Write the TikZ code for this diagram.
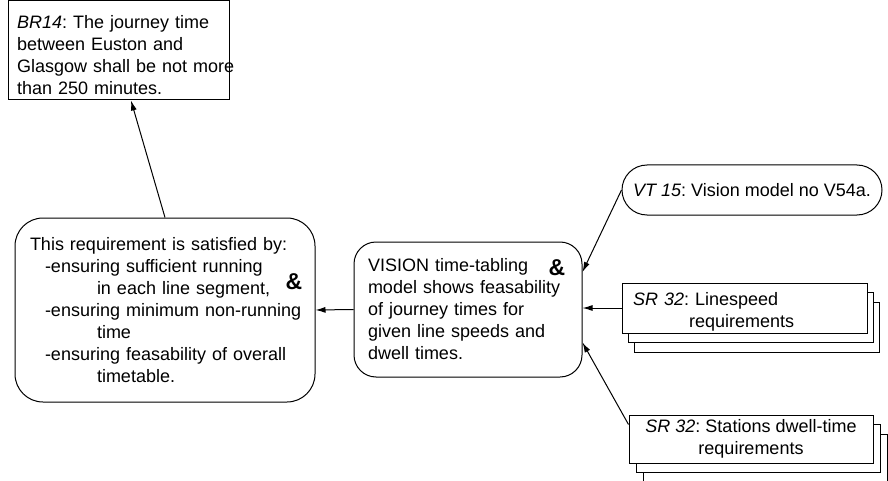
\documentclass[tikz,border=0pt]{standalone}
\usepackage{fontspec}
\setmainfont{Liberation Sans}
\usetikzlibrary{arrows.meta,calc}
\frenchspacing
\begin{document}
\begin{tikzpicture}[x=1pt,y=-1pt,
  every node/.style={font=\fontsize{18}{22}\selectfont},
  box/.style={draw, line width=1pt, fill=white, inner sep=0pt},
  stackA/.style={box, minimum width=245pt, minimum height=50pt},
  stackB/.style={box, minimum width=244pt, minimum height=48pt},
  amp/.style={font=\fontsize{23}{23}\selectfont\bfseries, inner sep=0pt},
  arr/.style={line width=1pt, -{Latex[length=10pt,width=6pt]}}
]
\useasboundingbox (0,0) rectangle (888,481);

\node[box, text width=203pt, inner xsep=9pt, minimum height=99pt, align=left] (br) at (118.5,50.5)
  {\mbox{\rule{0pt}{23pt}\textit{BR14}: The journey time}\\\mbox{between Euston and}\\\mbox{Glasgow shall be not more}\\\mbox{than 250 minutes.}};

\node[box, rounded corners=28pt, text width=270pt, inner xsep=15pt, minimum height=184pt, align=left] (left) at (165,310)
  {\mbox{This requirement is satisfied by:}\\
   \mbox{\hspace*{15pt}-ensuring sufficient running}\\
   \mbox{\hspace*{67pt}in each line segment,}\\
   \mbox{\hspace*{15pt}-ensuring minimum non-running}\\
   \mbox{\hspace*{67pt}time}\\
   \mbox{\hspace*{15pt}-ensuring feasability of overall}\\
   \mbox{\hspace*{67pt}timetable.}};
\node[amp] (amp1) at (294,282) {\&};

\node[box, rounded corners=22pt, text width=200pt, inner xsep=14pt, minimum height=135pt, align=left] (mid) at (468,309.5)
  {\mbox{VISION time-tabling}\\\mbox{model shows feasability}\\\mbox{of journey times for}\\\mbox{given line speeds and}\\\mbox{dwell times.}};
\node[amp] (amp2) at (557,268) {\&};

\node[box, rounded corners=25pt, minimum width=260pt, minimum height=50pt] (vt) at (752,190)
  {\textit{VT 15}: Vision model no V54a.};

\node[stackA] (ls3) at (756.5,327) {};
\node[stackA] (ls2) at (750.5,317.5) {};
\node[stackA, text width=223pt, inner xsep=11pt, align=left] (ls) at (744.5,308)
  {\mbox{\rule{0pt}{21pt}\textit{SR 32}: Linespeed}\\\mbox{\hspace*{56pt}requirements}};

\node[stackB] (st3) at (765,458) {};
\node[stackB] (st2) at (758,448.5) {};
\node[stackB, align=center] (st) at (751,439)
  {\textit{SR 32}: Stations dwell-time\\requirements};

\draw[arr] (left.north) -- ([xshift=12.5pt]br.south);
\draw[arr] (mid.west) -- (left.east);
\draw[arr] (vt.west) -- ([yshift=37.5pt]mid.east);
\draw[arr] (ls.west) -- (ls.west -| mid.east);
\draw[arr] ([yshift=-10pt]st.north west) -- ([yshift=-33pt]mid.east);
\end{tikzpicture}
\end{document}
